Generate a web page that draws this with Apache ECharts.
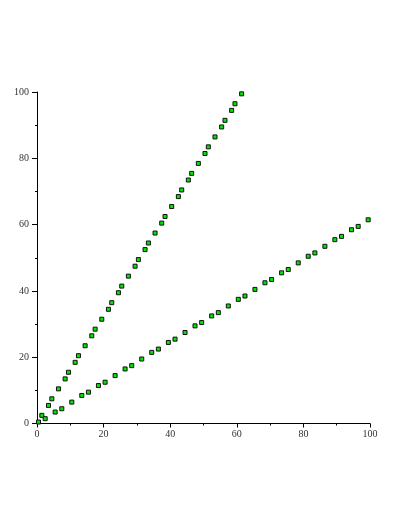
<!DOCTYPE html>
<html>
<head>
<meta charset="utf-8">
<script src="https://cdn.jsdelivr.net/npm/echarts@6/dist/echarts.min.js"></script>
<style>
  html, body { margin: 0; padding: 0; background: #fff; }
  #echart { width: 407px; height: 527px; }
</style>
</head>
<body>
<div id="echart"></div>
<script>
// points: steep branch (x, y) and its mirror
let steepX = [0, 1, 3, 4, 6, 8, 9, 11, 12, 14, 16, 17, 19, 21, 22, 24, 25, 27, 29, 30,
              32, 33, 35, 37, 38, 40, 42, 43, 45, 46, 48, 50, 51, 53, 55, 56, 58, 59, 61];
let steepY = [0, 2, 5, 7, 10, 13, 15, 18, 20, 23, 26, 28, 31, 34, 36, 39, 41, 44, 47, 49,
              52, 54, 57, 60, 62, 65, 68, 70, 73, 75, 78, 81, 83, 86, 89, 91, 94, 96, 99];
let flatX = steepY;
let flatY = steepX;
let xTicks = [0, 20, 40, 60, 80, 100];
let yTicks = [0, 20, 40, 60, 80, 100];

let pts = [];
for (let i = 0; i < steepX.length; i++) {
  pts.push([steepX[i], steepY[i]]);
  if (i > 0) pts.push([flatX[i], flatY[i]]);
}

let axisFont = { fontFamily: 'Liberation Serif', fontSize: 10, color: '#333' };

let option = {
  animation: false,
  backgroundColor: '#fff',
  grid: { left: 37, right: 37, top: 92, bottom: 103.5 },
  xAxis: {
    type: 'value', min: xTicks[0], max: xTicks[xTicks.length - 1], interval: 20,
    splitLine: { show: false },
    axisLine: { onZero: false, lineStyle: { color: '#000', width: 1 } },
    axisTick: { length: 4, lineStyle: { color: '#000' } },
    minorTick: { show: true, splitNumber: 2, length: 2, lineStyle: { color: '#000' } },
    axisLabel: Object.assign({ margin: 6 }, axisFont)
  },
  yAxis: {
    type: 'value', min: yTicks[0], max: yTicks[yTicks.length - 1], interval: 20,
    splitLine: { show: false },
    axisLine: { onZero: false, lineStyle: { color: '#000', width: 1 } },
    axisTick: { length: 5, lineStyle: { color: '#000' } },
    minorTick: { show: true, splitNumber: 2, length: 2, lineStyle: { color: '#000' } },
    axisLabel: Object.assign({ margin: 8 }, axisFont)
  },
  series: [{
    type: 'scatter',
    data: pts,
    symbol: 'rect',
    symbolSize: 4,
    symbolOffset: [1.5, -1.5],
    itemStyle: { color: '#00e600', borderColor: '#111', borderWidth: 1, opacity: 1 }
  }]
};

let myChart = echarts.init(document.getElementById('echart'));
myChart.setOption(option);
</script>
</body>
</html>
